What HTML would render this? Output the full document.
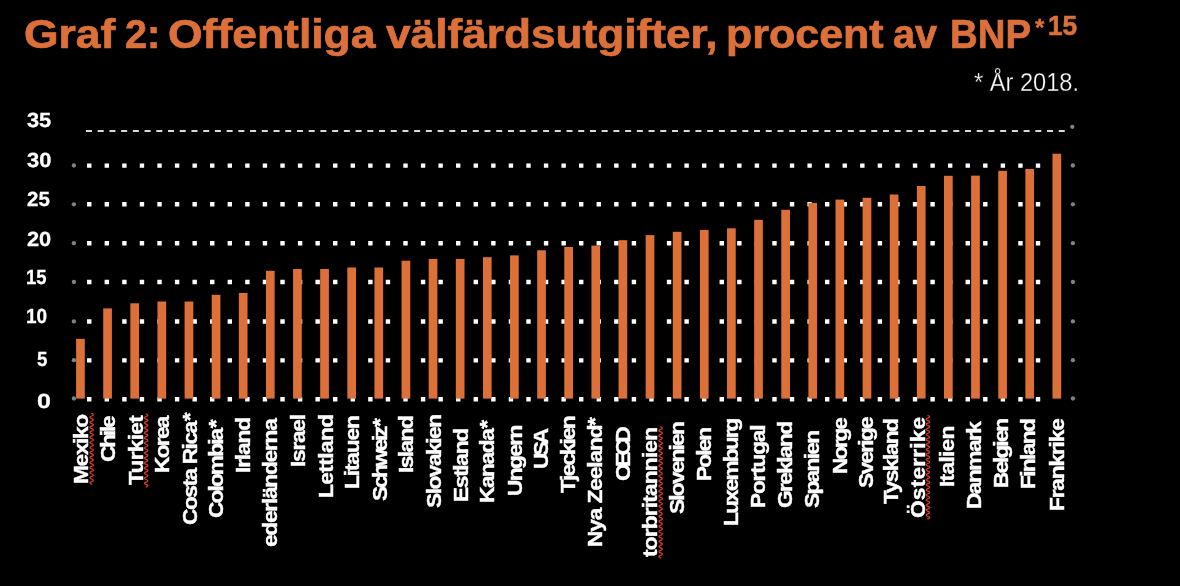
<!DOCTYPE html>
<html lang="sv"><head><meta charset="utf-8"><title>Graf 2</title>
<style>
html,body{margin:0;padding:0;background:#000;}
body{width:1180px;height:586px;position:relative;overflow:hidden;font-family:"Liberation Sans",sans-serif;}
.t{position:absolute;white-space:nowrap;transform-origin:0 0;font-weight:bold;}
.layer{position:absolute;left:0;top:0;width:1180px;height:586px;will-change:transform;}
.tw{color:#DD7039;font-size:40px;line-height:40px;-webkit-text-stroke:0.7px #DD7039;}
.yl{color:#fff;font-size:20.5px;line-height:20.5px;-webkit-text-stroke:0.3px #fff;}
.xl{color:#fff;font-size:21px;line-height:21px;-webkit-text-stroke:0.4px #fff;}
svg{position:absolute;left:0;top:0;}
</style></head><body>
<svg width="1180" height="586" viewBox="0 0 1180 586">
<line x1="86" y1="131" x2="1064.8" y2="131" stroke="#dadada" stroke-width="1.8" stroke-dasharray="6 5.72"/>
<line x1="87.05" y1="165.6" x2="1045" y2="165.6" stroke="#fff" stroke-width="4.4" stroke-dasharray="4.4 13.17"/>
<line x1="87.05" y1="204.3" x2="1045" y2="204.3" stroke="#fff" stroke-width="4.4" stroke-dasharray="4.4 13.17"/>
<line x1="87.05" y1="243.3" x2="1045" y2="243.3" stroke="#fff" stroke-width="4.4" stroke-dasharray="4.4 13.17"/>
<line x1="87.05" y1="282" x2="1045" y2="282" stroke="#fff" stroke-width="4.4" stroke-dasharray="4.4 13.17"/>
<line x1="87.05" y1="321.55" x2="1045" y2="321.55" stroke="#fff" stroke-width="4.4" stroke-dasharray="4.4 13.17"/>
<line x1="87.05" y1="360.35" x2="1045" y2="360.35" stroke="#fff" stroke-width="4.4" stroke-dasharray="4.4 13.17"/>
<line x1="87.05" y1="399.2" x2="1045" y2="399.2" stroke="#fff" stroke-width="4.4" stroke-dasharray="4.4 13.17"/>
<circle cx="1072.3" cy="126.8" r="2.15" fill="#828282"/>
<circle cx="1072.9" cy="165.5" r="2.15" fill="#828282"/>
<circle cx="1072.9" cy="204.3" r="2.15" fill="#828282"/>
<circle cx="1072.9" cy="243.2" r="2.15" fill="#828282"/>
<circle cx="1072.9" cy="282" r="2.15" fill="#828282"/>
<circle cx="1072.9" cy="321.4" r="2.15" fill="#828282"/>
<circle cx="1072.9" cy="360.2" r="2.15" fill="#828282"/>
<circle cx="1072.9" cy="398.5" r="2.15" fill="#828282"/>
<circle cx="73.9" cy="165.5" r="2.15" fill="#828282"/>
<circle cx="73.9" cy="204.3" r="2.15" fill="#828282"/>
<circle cx="73.9" cy="243.2" r="2.15" fill="#828282"/>
<circle cx="73.9" cy="282" r="2.15" fill="#828282"/>
<circle cx="73.9" cy="321.4" r="2.15" fill="#828282"/>
<circle cx="73.9" cy="360.2" r="2.15" fill="#828282"/>
<circle cx="73.9" cy="398.5" r="2.15" fill="#828282"/>
<rect x="76.1" y="338.8" width="8.7" height="59.8" fill="#DD7039"/>
<rect x="103.22" y="308.4" width="8.7" height="90.2" fill="#DD7039"/>
<rect x="130.34" y="303.3" width="8.7" height="95.3" fill="#DD7039"/>
<rect x="157.47" y="301.5" width="8.7" height="97.1" fill="#DD7039"/>
<rect x="184.59" y="301.5" width="8.7" height="97.1" fill="#DD7039"/>
<rect x="211.71" y="294.8" width="8.7" height="103.8" fill="#DD7039"/>
<rect x="238.83" y="293" width="8.7" height="105.6" fill="#DD7039"/>
<rect x="265.95" y="270.8" width="8.7" height="127.8" fill="#DD7039"/>
<rect x="293.08" y="269" width="8.7" height="129.6" fill="#DD7039"/>
<rect x="320.2" y="269" width="8.7" height="129.6" fill="#DD7039"/>
<rect x="347.32" y="267.5" width="8.7" height="131.1" fill="#DD7039"/>
<rect x="374.44" y="267.5" width="8.7" height="131.1" fill="#DD7039"/>
<rect x="401.56" y="260.7" width="8.7" height="137.9" fill="#DD7039"/>
<rect x="428.69" y="258.9" width="8.7" height="139.7" fill="#DD7039"/>
<rect x="455.81" y="258.9" width="8.7" height="139.7" fill="#DD7039"/>
<rect x="482.93" y="257.2" width="8.7" height="141.4" fill="#DD7039"/>
<rect x="510.05" y="255.4" width="8.7" height="143.2" fill="#DD7039"/>
<rect x="537.17" y="250.3" width="8.7" height="148.3" fill="#DD7039"/>
<rect x="564.3" y="247" width="8.7" height="151.6" fill="#DD7039"/>
<rect x="591.42" y="245.6" width="8.7" height="153" fill="#DD7039"/>
<rect x="618.54" y="240.2" width="8.7" height="158.4" fill="#DD7039"/>
<rect x="645.66" y="235.1" width="8.7" height="163.5" fill="#DD7039"/>
<rect x="672.78" y="231.8" width="8.7" height="166.8" fill="#DD7039"/>
<rect x="699.91" y="230" width="8.7" height="168.6" fill="#DD7039"/>
<rect x="727.03" y="228.3" width="8.7" height="170.3" fill="#DD7039"/>
<rect x="754.15" y="219.8" width="8.7" height="178.8" fill="#DD7039"/>
<rect x="781.27" y="209.8" width="8.7" height="188.8" fill="#DD7039"/>
<rect x="808.39" y="203" width="8.7" height="195.6" fill="#DD7039"/>
<rect x="835.52" y="199.6" width="8.7" height="199" fill="#DD7039"/>
<rect x="862.64" y="197.8" width="8.7" height="200.8" fill="#DD7039"/>
<rect x="889.76" y="194.5" width="8.7" height="204.1" fill="#DD7039"/>
<rect x="916.88" y="186" width="8.7" height="212.6" fill="#DD7039"/>
<rect x="944" y="175.8" width="8.7" height="222.8" fill="#DD7039"/>
<rect x="971.13" y="175.6" width="8.7" height="223" fill="#DD7039"/>
<rect x="998.25" y="170.8" width="8.7" height="227.8" fill="#DD7039"/>
<rect x="1025.37" y="169" width="8.7" height="229.6" fill="#DD7039"/>
<rect x="1052.49" y="153.7" width="8.7" height="244.9" fill="#DD7039"/>
<path d="M91.65 413.5 Q95.15 414.76 91.65 416.02 Q88.15 417.28 91.65 418.54 Q95.15 419.8 91.65 421.06 Q88.15 422.32 91.65 423.58 Q95.15 424.84 91.65 426.1 Q88.15 427.36 91.65 428.62 Q95.15 429.88 91.65 431.14 Q88.15 432.4 91.65 433.66 Q95.15 434.92 91.65 436.18 Q88.15 437.44 91.65 438.7 Q95.15 439.96 91.65 441.22 Q88.15 442.48 91.65 443.74 Q95.15 445 91.65 446.26 Q88.15 447.52 91.65 448.78 Q95.15 450.04 91.65 451.3 Q88.15 452.56 91.65 453.82 Q95.15 455.08 91.65 456.34 Q88.15 457.6 91.65 458.86 Q95.15 460.12 91.65 461.38 Q88.15 462.64 91.65 463.9 Q95.15 465.16 91.65 466.42 Q88.15 467.68 91.65 468.94 Q95.15 470.2 91.65 471.46 Q88.15 472.72 91.65 473.98 Q95.15 475.24 91.65 476.5 Q88.15 477.76 91.65 479.02 Q95.15 480.28 91.65 481.54 Q88.15 482.8 91.65 484.06" fill="none" stroke="#d93a2b" stroke-width="1.25" stroke-linejoin="round" stroke-linecap="round"/>
<path d="M146.15 414 Q149.65 415.26 146.15 416.52 Q142.65 417.78 146.15 419.04 Q149.65 420.3 146.15 421.56 Q142.65 422.82 146.15 424.08 Q149.65 425.34 146.15 426.6 Q142.65 427.86 146.15 429.12 Q149.65 430.38 146.15 431.64 Q142.65 432.9 146.15 434.16 Q149.65 435.42 146.15 436.68 Q142.65 437.94 146.15 439.2 Q149.65 440.46 146.15 441.72 Q142.65 442.98 146.15 444.24 Q149.65 445.5 146.15 446.76 Q142.65 448.02 146.15 449.28 Q149.65 450.54 146.15 451.8 Q142.65 453.06 146.15 454.32 Q149.65 455.58 146.15 456.84 Q142.65 458.1 146.15 459.36 Q149.65 460.62 146.15 461.88 Q142.65 463.14 146.15 464.4 Q149.65 465.66 146.15 466.92 Q142.65 468.18 146.15 469.44 Q149.65 470.7 146.15 471.96 Q142.65 473.22 146.15 474.48 Q149.65 475.74 146.15 477 Q142.65 478.26 146.15 479.52 Q149.65 480.78 146.15 482.04 Q142.65 483.3 146.15 484.56 Q149.65 485.82 146.15 487.08" fill="none" stroke="#d93a2b" stroke-width="1.25" stroke-linejoin="round" stroke-linecap="round"/>
<path d="M660.65 426.9 Q664.15 428.16 660.65 429.42 Q657.15 430.68 660.65 431.94 Q664.15 433.2 660.65 434.46 Q657.15 435.72 660.65 436.98 Q664.15 438.24 660.65 439.5 Q657.15 440.76 660.65 442.02 Q664.15 443.28 660.65 444.54 Q657.15 445.8 660.65 447.06 Q664.15 448.32 660.65 449.58 Q657.15 450.84 660.65 452.1 Q664.15 453.36 660.65 454.62 Q657.15 455.88 660.65 457.14 Q664.15 458.4 660.65 459.66 Q657.15 460.92 660.65 462.18 Q664.15 463.44 660.65 464.7 Q657.15 465.96 660.65 467.22 Q664.15 468.48 660.65 469.74 Q657.15 471 660.65 472.26 Q664.15 473.52 660.65 474.78 Q657.15 476.04 660.65 477.3 Q664.15 478.56 660.65 479.82 Q657.15 481.08 660.65 482.34 Q664.15 483.6 660.65 484.86 Q657.15 486.12 660.65 487.38 Q664.15 488.64 660.65 489.9 Q657.15 491.16 660.65 492.42 Q664.15 493.68 660.65 494.94 Q657.15 496.2 660.65 497.46 Q664.15 498.72 660.65 499.98 Q657.15 501.24 660.65 502.5 Q664.15 503.76 660.65 505.02 Q657.15 506.28 660.65 507.54 Q664.15 508.8 660.65 510.06 Q657.15 511.32 660.65 512.58 Q664.15 513.84 660.65 515.1 Q657.15 516.36 660.65 517.62 Q664.15 518.88 660.65 520.14 Q657.15 521.4 660.65 522.66 Q664.15 523.92 660.65 525.18 Q657.15 526.44 660.65 527.7 Q664.15 528.96 660.65 530.22 Q657.15 531.48 660.65 532.74 Q664.15 534 660.65 535.26 Q657.15 536.52 660.65 537.78 Q664.15 539.04 660.65 540.3 Q657.15 541.56 660.65 542.82 Q664.15 544.08 660.65 545.34 Q657.15 546.6 660.65 547.86 Q664.15 549.12 660.65 550.38 Q657.15 551.64 660.65 552.9 Q664.15 554.16 660.65 555.42 Q657.15 556.68 660.65 557.94" fill="none" stroke="#d93a2b" stroke-width="1.25" stroke-linejoin="round" stroke-linecap="round"/>
<path d="M927.95 415.6 Q931.45 416.86 927.95 418.12 Q924.45 419.38 927.95 420.64 Q931.45 421.9 927.95 423.16 Q924.45 424.42 927.95 425.68 Q931.45 426.94 927.95 428.2 Q924.45 429.46 927.95 430.72 Q931.45 431.98 927.95 433.24 Q924.45 434.5 927.95 435.76 Q931.45 437.02 927.95 438.28 Q924.45 439.54 927.95 440.8 Q931.45 442.06 927.95 443.32 Q924.45 444.58 927.95 445.84 Q931.45 447.1 927.95 448.36 Q924.45 449.62 927.95 450.88 Q931.45 452.14 927.95 453.4 Q924.45 454.66 927.95 455.92 Q931.45 457.18 927.95 458.44 Q924.45 459.7 927.95 460.96 Q931.45 462.22 927.95 463.48 Q924.45 464.74 927.95 466 Q931.45 467.26 927.95 468.52 Q924.45 469.78 927.95 471.04 Q931.45 472.3 927.95 473.56 Q924.45 474.82 927.95 476.08 Q931.45 477.34 927.95 478.6 Q924.45 479.86 927.95 481.12 Q931.45 482.38 927.95 483.64 Q924.45 484.9 927.95 486.16 Q931.45 487.42 927.95 488.68 Q924.45 489.94 927.95 491.2 Q931.45 492.46 927.95 493.72 Q924.45 494.98 927.95 496.24 Q931.45 497.5 927.95 498.76 Q924.45 500.02 927.95 501.28 Q931.45 502.54 927.95 503.8 Q924.45 505.06 927.95 506.32 Q931.45 507.58 927.95 508.84 Q924.45 510.1 927.95 511.36 Q931.45 512.62 927.95 513.88 Q924.45 515.14 927.95 516.4 Q931.45 517.66 927.95 518.92" fill="none" stroke="#d93a2b" stroke-width="1.25" stroke-linejoin="round" stroke-linecap="round"/>
</svg>
<div class="layer">
<div class="t tw" style="left:24.49px;top:13.9px;transform:scaleX(1.1108)">Graf</div>
<div class="t tw" style="left:125.31px;top:13.9px;transform:scaleX(0.9921)">2:</div>
<div class="t tw" style="left:167.79px;top:13.9px;transform:scaleX(1.1115)">Offentliga</div>
<div class="t tw" style="left:386.3px;top:13.9px;transform:scaleX(1.1048)">välfärdsutgifter,</div>
<div class="t tw" style="left:726.35px;top:13.9px;transform:scaleX(1.0744)">procent</div>
<div class="t tw" style="left:892.71px;top:13.9px;transform:scaleX(0.9944)">av</div>
<div class="t tw" style="left:949.88px;top:13.9px;transform:scaleX(0.9587)">BNP</div>
<div class="t" style="left:1034.9px;top:15.9px;color:#DD7039;font-size:24px;line-height:24px;-webkit-text-stroke:0.4px #DD7039">*</div>
<div class="t" style="left:1048.06px;top:12.2px;color:#DD7039;font-size:28px;line-height:28px;-webkit-text-stroke:0.6px #DD7039;transform:scaleX(0.9367)">15</div>
<div class="t" style="left:973.9px;top:69.5px;color:#fff;font-weight:normal;font-size:25px;line-height:25px;transform:scaleX(0.9447);-webkit-text-stroke:0.3px #000">* År 2018.</div>
<div class="t yl" style="left:26.9px;top:110.25px;transform:rotate(0.05deg) scaleX(1.0624)">35</div>
<div class="t yl" style="left:26.9px;top:149.85px;transform:rotate(0.05deg) scaleX(1.0669)">30</div>
<div class="t yl" style="left:26.9px;top:189.25px;transform:rotate(0.05deg) scaleX(0.9999)">25</div>
<div class="t yl" style="left:26.9px;top:228.85px;transform:rotate(0.05deg) scaleX(1.0624)">20</div>
<div class="t yl" style="left:26px;top:267.05px;transform:rotate(0.05deg) scaleX(0.8971)">15</div>
<div class="t yl" style="left:26.27px;top:305.95px;transform:rotate(0.05deg) scaleX(0.9252)">10</div>
<div class="t yl" style="left:37.4px;top:349.15px;transform:rotate(0.05deg) scaleX(0.9091)">5</div>
<div class="t yl" style="left:37.3px;top:391.35px;transform:rotate(0.05deg) scaleX(1.2182)">0</div>
<div class="t xl" style="left:70.2px;top:484.18px;transform:rotate(-90deg) scaleX(1.08);letter-spacing:-1.24px">Mexiko</div>
<div class="t xl" style="left:97px;top:461.7px;transform:rotate(-90deg) scaleX(1.08);letter-spacing:-2.02px">Chile</div>
<div class="t xl" style="left:124.7px;top:484.8px;transform:rotate(-90deg) scaleX(1.08);letter-spacing:-0.64px">Turkiet</div>
<div class="t xl" style="left:150.9px;top:472.78px;transform:rotate(-90deg) scaleX(1.08);letter-spacing:-1.59px">Korea</div>
<div class="t xl" style="left:178.8px;top:525px;transform:rotate(-90deg) scaleX(1.08);letter-spacing:-1.34px">Costa Rica<span style="letter-spacing:0;margin-left:0.91px">*</span></div>
<div class="t xl" style="left:204.5px;top:517.7px;transform:rotate(-90deg) scaleX(1.08);letter-spacing:-1.74px">Colombia<span style="letter-spacing:0;margin-left:1.3px">*</span></div>
<div class="t xl" style="left:231.8px;top:473.18px;transform:rotate(-90deg) scaleX(1.08);letter-spacing:-1.05px">Irland</div>
<div class="t xl" style="left:259.3px;top:546.7px;transform:rotate(-90deg) scaleX(1.08);letter-spacing:-1.15px">ederländerna</div>
<div class="t xl" style="left:287px;top:467.18px;transform:rotate(-90deg) scaleX(1.08);letter-spacing:-1.16px">Israel</div>
<div class="t xl" style="left:315px;top:498.38px;transform:rotate(-90deg) scaleX(1.08);letter-spacing:-0.53px">Lettland</div>
<div class="t xl" style="left:341.2px;top:489.08px;transform:rotate(-90deg) scaleX(1.08);letter-spacing:-1.03px">Litauen</div>
<div class="t xl" style="left:369.3px;top:501.3px;transform:rotate(-90deg) scaleX(1.08);letter-spacing:-2.2px">Schweiz<span style="letter-spacing:0;margin-left:0.94px">*</span></div>
<div class="t xl" style="left:395.2px;top:472.78px;transform:rotate(-90deg) scaleX(1.08);letter-spacing:-1.44px">Island</div>
<div class="t xl" style="left:423.2px;top:508.3px;transform:rotate(-90deg) scaleX(1.08);letter-spacing:-1.37px">Slovakien</div>
<div class="t xl" style="left:449.6px;top:501.98px;transform:rotate(-90deg) scaleX(1.08);letter-spacing:-1.21px">Estland</div>
<div class="t xl" style="left:476.2px;top:503.08px;transform:rotate(-90deg) scaleX(1.08);letter-spacing:-1.33px">Kanada<span style="letter-spacing:0;margin-left:0.89px">*</span></div>
<div class="t xl" style="left:503.7px;top:495.98px;transform:rotate(-90deg) scaleX(1.08);letter-spacing:-1.48px">Ungern</div>
<div class="t xl" style="left:530.3px;top:468.68px;transform:rotate(-90deg) scaleX(1.08);letter-spacing:-3.11px">USA</div>
<div class="t xl" style="left:557.4px;top:492.7px;transform:rotate(-90deg) scaleX(1.08);letter-spacing:-1.74px">Tjeckien</div>
<div class="t xl" style="left:584px;top:546.78px;transform:rotate(-90deg) scaleX(1.08);letter-spacing:-1.02px">Nya Zeeland<span style="letter-spacing:0;margin-left:-0.56px">*</span></div>
<div class="t xl" style="left:611.6px;top:480.5px;transform:rotate(-90deg) scaleX(1.08);letter-spacing:-3.35px">OECD</div>
<div class="t xl" style="left:639.2px;top:557px;transform:rotate(-90deg) scaleX(1.08);letter-spacing:-0.76px">torbritannien</div>
<div class="t xl" style="left:666px;top:514.1px;transform:rotate(-90deg) scaleX(1.08);letter-spacing:-1.66px">Slovenien</div>
<div class="t xl" style="left:693px;top:480.88px;transform:rotate(-90deg) scaleX(1.08);letter-spacing:-1.78px">Polen</div>
<div class="t xl" style="left:720.3px;top:526.38px;transform:rotate(-90deg) scaleX(1.08);letter-spacing:-1.74px">Luxemburg</div>
<div class="t xl" style="left:747.4px;top:508.18px;transform:rotate(-90deg) scaleX(1.08);letter-spacing:-1.11px">Portugal</div>
<div class="t xl" style="left:774.4px;top:507.7px;transform:rotate(-90deg) scaleX(1.08);letter-spacing:-1.48px">Grekland</div>
<div class="t xl" style="left:800.8px;top:508.2px;transform:rotate(-90deg) scaleX(1.08);letter-spacing:-1.56px">Spanien</div>
<div class="t xl" style="left:828.5px;top:474.38px;transform:rotate(-90deg) scaleX(1.08);letter-spacing:-2.02px">Norge</div>
<div class="t xl" style="left:854.6px;top:488.2px;transform:rotate(-90deg) scaleX(1.08);letter-spacing:-1.59px">Sverige</div>
<div class="t xl" style="left:880.3px;top:503.8px;transform:rotate(-90deg) scaleX(1.08);letter-spacing:-1.42px">Tyskland</div>
<div class="t xl" style="left:906.5px;top:517.5px;transform:rotate(-90deg) scaleX(1.08);letter-spacing:0.18px">Österrike</div>
<div class="t xl" style="left:935.6px;top:487.08px;transform:rotate(-90deg) scaleX(1.08);letter-spacing:-0.64px">Italien</div>
<div class="t xl" style="left:963.4px;top:509.38px;transform:rotate(-90deg) scaleX(1.08);letter-spacing:-1.41px">Danmark</div>
<div class="t xl" style="left:989.6px;top:488.08px;transform:rotate(-90deg) scaleX(1.08);letter-spacing:-1.81px">Belgien</div>
<div class="t xl" style="left:1017.4px;top:488.68px;transform:rotate(-90deg) scaleX(1.08);letter-spacing:-1.52px">Finland</div>
<div class="t xl" style="left:1045.5px;top:510.88px;transform:rotate(-90deg) scaleX(1.08);letter-spacing:-1.08px">Frankrike</div>
</div>
</body></html>
